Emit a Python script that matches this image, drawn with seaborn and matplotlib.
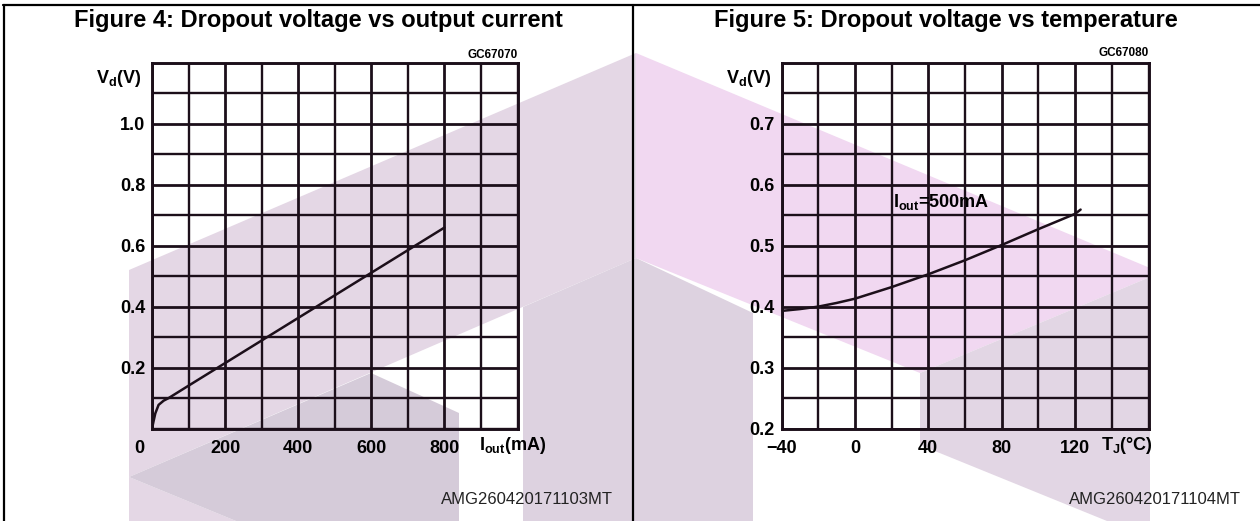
import numpy as np
import matplotlib
matplotlib.use("Agg")
import matplotlib.pyplot as plt
import seaborn as sns
from matplotlib.patches import Polygon
from matplotlib.lines import Line2D
from matplotlib.transforms import ScaledTranslation

# Figure 4: dropout voltage vs output current
current_ma = [0, 4, 9, 18, 32, 45, 100, 200, 400, 600, 800]
vd_vs_current = [0, 0.023, 0.05, 0.078, 0.092, 0.1, 0.141, 0.215, 0.363, 0.511, 0.659]
current_ticks = [0, 200, 400, 600, 800]
vd_ticks_left = [0.2, 0.4, 0.6, 0.8, 1.0]

# Figure 5: dropout voltage vs temperature (Iout = 500 mA)
temp_c = [-40, -30, -20, -10, 0, 20, 40, 60, 80, 100, 120, 123]
vd_vs_temp = [0.393, 0.396, 0.400, 0.406, 0.413, 0.432, 0.453, 0.476, 0.501, 0.527, 0.552, 0.559]
temp_ticks = [-40, 0, 40, 80, 120]
vd_ticks_right = [0.2, 0.3, 0.4, 0.5, 0.6, 0.7]

titles = ["Figure 4: Dropout voltage vs output current",
          "Figure 5: Dropout voltage vs temperature"]
codes = ["GC67070", "GC67080"]
refs = ["AMG260420171103MT", "AMG260420171104MT"]

sns.set_theme(style="white")
plt.rcParams["font.family"] = ["Liberation Sans", "DejaVu Sans"]

W, H = 1260, 521
fig = plt.figure(figsize=(12.6, 5.21), dpi=100)


def px(x, y):
    return (x / W, 1 - y / H)


# background watermark (decoration)
shapes = [
    ([(129, 270), (636, 53), (636, 258), (129, 477)], "#e4d7e5"),
    ([(129, 477), (236, 521), (129, 521)], "#e4d7e5"),
    ([(129, 477), (371, 373), (459, 413), (459, 521), (236, 521)], "#d5cbd9"),
    ([(523, 307), (636, 258), (753, 313), (753, 521), (523, 521)], "#ddd2e0"),
    ([(636, 53), (1150, 268), (1150, 277), (920, 373), (636, 258)], "#f1d8f1"),
    ([(920, 373), (1150, 277), (1150, 521), (1107, 521), (920, 445)], "#e2d6e4"),
]
for pts, col in shapes:
    fig.add_artist(Polygon([px(*p) for p in pts], closed=True, facecolor=col,
                           edgecolor="none", transform=fig.transFigure, zorder=-5))

# page frame
for xs, ys in [((3, 1260), (5, 5)), ((3.7, 3.7), (5, 521)), ((633, 633), (5, 521))]:
    fig.add_artist(Line2D([x / W for x in xs], [1 - y / H for y in ys], color="black",
                          lw=1.6, transform=fig.transFigure, zorder=-1))

line_col = "#1c0f1a"
ax1 = fig.add_axes([152 / W, (H - 428.7) / H, 365.5 / W, 366.2 / H])
ax2 = fig.add_axes([781.5 / W, (H - 428.7) / H, 367 / W, 366.2 / H])

sns.lineplot(x=current_ma, y=vd_vs_current, ax=ax1, color=line_col, lw=1.8,
             sort=False, estimator=None)
sns.lineplot(x=temp_c, y=vd_vs_temp, ax=ax2, color=line_col, lw=1.8,
             sort=False, estimator=None)

ax1.set_xlim(0, 1000)
ax1.set_ylim(0, 1.2)
ax1.set_xticks(current_ticks)
ax1.set_yticks(vd_ticks_left)
ax1.set_yticklabels([f"{v:.1f}" for v in vd_ticks_left])
ax1.set_xticks(np.arange(0, 1001, 100), minor=True)
ax1.set_yticks(np.arange(0, 1.21, 0.1), minor=True)

ax2.set_xlim(-40, 160)
ax2.set_ylim(0.2, 0.8)
ax2.set_xticks(temp_ticks)
ax2.set_yticks(vd_ticks_right)
ax2.set_yticklabels([f"{v:.1f}" for v in vd_ticks_right])
ax2.set_xticks(np.arange(-40, 161, 20), minor=True)
ax2.set_yticks(np.arange(0.2, 0.81, 0.05), minor=True)

for ax in (ax1, ax2):
    ax.set_facecolor("none")
    ax.grid(which="major", color=line_col, lw=2.0)
    ax.grid(which="minor", color=line_col, lw=1.7)
    ax.tick_params(which="both", length=0)
    ax.tick_params(axis="y", pad=5)
    ax.tick_params(axis="x", pad=8)
    for lab in ax.get_xticklabels() + ax.get_yticklabels():
        lab.set_fontsize(13)
        lab.set_fontweight("bold")
        lab.set_color("black")
    for sp in ax.spines.values():
        sp.set_visible(True)
        sp.set_color(line_col)
        sp.set_linewidth(2.1)
    ax.set_xlabel("")
    ax.set_ylabel("")

# the "0" label of figure 4 sits left of the axis
lab0 = ax1.get_xticklabels()[0]
lab0.set_transform(lab0.get_transform() + ScaledTranslation(-13 / 100, 0, fig.dpi_scale_trans))

lbl = dict(fontsize=13, fontweight="bold", color="black")
ax1.text(-0.028, 0.985, r"V$_\mathregular{d}$(V)", transform=ax1.transAxes,
         ha="right", va="top", **lbl)
ax2.text(-0.028, 0.985, r"V$_\mathregular{d}$(V)", transform=ax2.transAxes,
         ha="right", va="top", **lbl)
ax1.text(0.895, -0.047, r"I$_\mathregular{out}$(mA)", transform=ax1.transAxes,
         ha="left", va="center", **lbl)
ax2.text(0.87, -0.047, r"T$_\mathregular{J}$(°C)", transform=ax2.transAxes,
         ha="left", va="center", **lbl)
ax2.text(20.8, 0.571, r"I$_\mathregular{out}$=500mA", ha="left", va="center", **lbl)

for i, cx in enumerate([318, 946]):
    fig.text(*px(cx, 21), titles[i], ha="center", va="center",
             fontsize=17, fontweight="bold", color="black")
fig.text(*px(518, 55), codes[0], ha="right", va="center", fontsize=8.5,
         fontweight="bold", color="black")
fig.text(*px(1149, 53), codes[1], ha="right", va="center", fontsize=8.5,
         fontweight="bold", color="black")
fig.text(*px(613, 499), refs[0], ha="right", va="center", fontsize=12, color="#222222")
fig.text(*px(1241, 499), refs[1], ha="right", va="center", fontsize=12, color="#222222")

fig.savefig("out.png", dpi=100)
